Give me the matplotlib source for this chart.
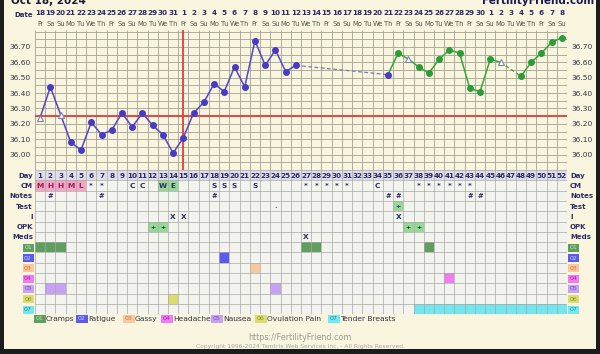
import matplotlib.pyplot as plt
import numpy as np
from matplotlib.patches import Rectangle
from matplotlib.transforms import blended_transform_factory

W, H = 600, 354

# ---- chart data ----
dates = list(range(18, 32)) + list(range(1, 31)) + list(range(1, 9))
wk = ["Fr", "Sa", "Su", "Mo", "Tu", "We", "Th"]
weekdays = [wk[i % 7] for i in range(52)]

temp_day = list(range(1, 27)) + [35] + list(range(36, 47)) + [48, 49, 50, 51, 52]
temp_val = [36.24, 36.44, 36.26, 36.08, 36.03, 36.21, 36.13, 36.16, 36.27, 36.18,
            36.27, 36.19, 36.13, 36.01, 36.11, 36.27, 36.34, 36.46, 36.41, 36.57,
            36.44, 36.74, 36.58, 36.68, 36.54, 36.58,
            36.52,
            36.66, 36.62, 36.57, 36.53, 36.62, 36.68, 36.66, 36.43, 36.41, 36.62, 36.60,
            36.51, 36.60, 36.66, 36.73, 36.76]
discarded = [1, 3, 37, 46]
coverline = 36.25
ovulation_day = 15
cycle2_start = 35

# ---- table data ----
row_labels = ["Day", "CM", "Notes", "Test", "I", "OPK", "Meds",
              "01", "02", "03", "04", "05", "06", "07"]
cm = {1: "M", 2: "H", 3: "H", 4: "M", 5: "L", 6: "*", 7: "*", 10: "C", 11: "C",
      13: "W", 14: "E", 18: "S", 19: "S", 20: "S", 22: "S",
      27: "*", 28: "*", 29: "*", 30: "*", 31: "*", 34: "C",
      38: "*", 39: "*", 40: "*", 41: "*", 42: "*", 43: "*"}
cm_pink = [1, 2, 3, 4, 5]
cm_green = [13, 14]
notes_days = [2, 7, 18, 35, 36, 43, 44]
test = {24: ".", 36: "+"}
test_green = [36]
intercourse_days = [14, 15, 36]
opk_days = [12, 13, 37, 38]
meds_days = [27]
symptom_names = ["Cramps", "Fatigue", "Gassy", "Headache", "Nausea",
                 "Ovulation Pain", "Tender Breasts"]
symptom_days = [[1, 2, 3, 27, 28, 39], [19], [22], [41], [2, 3, 24], [14],
                list(range(38, 53))]
symptom_fill = ["#5f9e5f", "#5a5aee", "#f8c9a0", "#f27af2", "#c8a2f2", "#dcdc72", "#74e6ee"]
symptom_text = ["#b4e4b4", "#c8c8ff", "#d9762c", "#b02cb0", "#7d4cc4", "#8f8f1c", "#2a8f9c"]

BG = "#f9f5de"
NAVY = "#2b2b66"
GRID = "#a3a395"

fig = plt.figure(figsize=(W / 100, H / 100), dpi=100, facecolor=BG)


def fx(px):
    return px / W


def fy(py):
    return 1 - py / H


x0, x1 = 35, 567
# ---------- temperature chart ----------
ax = fig.add_axes([fx(x0), fy(170), fx(x1 - x0), (170 - 30) / H])
ax.set_facecolor(BG)
ax.set_xlim(0.5, 52.5)
ax.set_ylim(35.90, 36.81)
for s in ax.spines.values():
    s.set_visible(False)
ax.vlines(np.arange(0.5, 53), 35.90, 36.81, color=GRID, lw=0.6, zorder=1)
ax.hlines(np.arange(35.90, 36.81, 0.05), 0.5, 52.5, color=GRID, lw=0.6, zorder=1)
ax.set_xticks([])
yt = np.round(np.arange(36.0, 36.71, 0.1), 2)
ax.set_yticks(yt)
ax.set_yticklabels([f"{v:.2f}" for v in yt])
ax.tick_params(axis="y", length=0, pad=3, labelsize=5.4, labelcolor="#333344",
               labelleft=True, labelright=True)

ax.axhline(coverline, color="#e83a3a", lw=1.3, zorder=2)
ax.axvline(ovulation_day, color="#e83a3a", lw=1.3, zorder=2)

td = np.array(temp_day)
tv = np.array(temp_val)
blue = td <= 26
ax.plot(td[blue], tv[blue], color="#5546c8", lw=1.1, zorder=3)
i26, i35 = temp_day.index(26), temp_day.index(35)
ax.plot(td[[i26, i35]], tv[[i26, i35]], color="#7a78b0", lw=0.9, ls=(0, (3, 2)), zorder=3)
i46, i48 = temp_day.index(46), temp_day.index(48)
g1 = (td >= 35) & (td <= 46)
g2 = td >= 48
ax.plot(td[g1], tv[g1], color="#35a83a", lw=1.1, zorder=3)
ax.plot(td[[i46, i48]], tv[[i46, i48]], color="#35a83a", lw=0.9, ls=(0, (3, 2)), zorder=3)
ax.plot(td[g2], tv[g2], color="#35a83a", lw=1.1, zorder=3)

disc = np.isin(td, discarded)
bdot = (~disc) & (td <= cycle2_start)
gdot = (~disc) & (td > cycle2_start)
ax.plot(td[bdot], tv[bdot], "o", ms=4, color="#4a3ac4", zorder=4)
ax.plot(td[gdot], tv[gdot], "o", ms=4, color="#2c9c38", zorder=4)
ax.plot(td[disc], tv[disc], "^", ms=4.2, mfc="white", mec="#8080b0", mew=0.8, zorder=4)

# date header
hdr = blended_transform_factory(ax.transData, fig.transFigure)
for d in range(1, 53):
    ax.text(d, fy(13), str(dates[d - 1]), transform=hdr, ha="center", va="center",
            fontsize=5.2, fontweight="bold", color=NAVY)
    ax.text(d, fy(24), weekdays[d - 1], transform=hdr, ha="center", va="center",
            fontsize=4.9, color="#555555")
fig.text(fx(33), fy(15), "Date", ha="right", va="center", fontsize=5,
         fontweight="bold", color=NAVY)

# ---------- table ----------
nrows = len(row_labels)
tb = fig.add_axes([fx(x0), fy(170 + 10.3 * nrows), fx(x1 - x0), 10.3 * nrows / H])
tb.set_xlim(0.5, 52.5)
tb.set_ylim(nrows, 0)
tb.axis("off")
tb.add_patch(Rectangle((0.5, 0), 52, nrows, fc="#f4f4ef", ec="none", zorder=0))
tb.add_patch(Rectangle((0.5, 0), 52, 1, fc="#dedee8", ec="none", zorder=0))


def cell(day, row, color):
    tb.add_patch(Rectangle((day - 0.5, row), 1, 1, fc=color, ec="none", zorder=1))


def mark(day, row, s, color=NAVY, size=5.3):
    tb.text(day, row + 0.55, s, ha="center", va="center", fontsize=size,
            fontweight="bold", color=color, zorder=3)


for d in range(1, 53):
    mark(d, 0, str(d), size=5.2)
for d in cm_pink:
    cell(d, 1, "#f2a6c6")
for d in cm_green:
    cell(d, 1, "#94da94")
for d, s in cm.items():
    mark(d, 1, s, color="#a0204a" if d in cm_pink else NAVY)
for d in notes_days:
    mark(d, 2, "#", size=4.8)
for d in test_green:
    cell(d, 3, "#94da94")
for d, s in test.items():
    mark(d, 3, s, size=4.5)
for d in intercourse_days:
    mark(d, 4, "X")
for d in opk_days:
    cell(d, 5, "#94da94")
    mark(d, 5, "+", size=4.5)
for d in meds_days:
    mark(d, 6, "X")
for k, days_k in enumerate(symptom_days):
    for d in days_k:
        cell(d, 7 + k, symptom_fill[k])

tb.vlines(np.arange(0.5, 53), 0, nrows, color="#a8a8a8", lw=0.5, zorder=2)
tb.hlines(np.arange(0, nrows + 1), 0.5, 52.5, color="#a8a8a8", lw=0.5, zorder=2)

rowtr_l = blended_transform_factory(fig.transFigure, tb.transData)
for r, lab in enumerate(row_labels):
    if r < 7:
        tb.text(fx(33), r + 0.55, lab, transform=rowtr_l, ha="right", va="center",
                fontsize=5, fontweight="bold", color=NAVY)
        tb.text(fx(570), r + 0.55, lab, transform=rowtr_l, ha="left", va="center",
                fontsize=5, fontweight="bold", color=NAVY)
    else:
        k = r - 7
        for xl, ha in ((fx(32), "right"), (fx(570), "left")):
            tb.text(xl, r + 0.55, lab, transform=rowtr_l, ha=ha, va="center",
                    fontsize=4.5, color=symptom_text[k],
                    bbox=dict(boxstyle="square,pad=0.25", fc=symptom_fill[k], ec="none"))

# ---------- legend ----------
leg_x = [36, 78, 125, 163, 213, 257, 330]
for k, name in enumerate(symptom_names):
    fig.text(fx(leg_x[k]), fy(319), f"0{k + 1}", ha="left", va="center", fontsize=4.5,
             color=symptom_text[k],
             bbox=dict(boxstyle="square,pad=0.3", fc=symptom_fill[k], ec="none"))
    fig.text(fx(leg_x[k] + 10), fy(319), name, ha="left", va="center",
             fontsize=5.4, color="#333344")

fig.text(0.5, fy(338), "https://FertilityFriend.com", ha="center", va="center",
         fontsize=5.8, color="#9a9a9a")
fig.text(0.5, fy(346.5), "Copyright 1996-2024 Tamtris Web Services Inc. - All Rights Reserved.",
         ha="center", va="center", fontsize=4.3, color="#a8a8a8")

# titles (cut off at top, as in the source screenshot)
fig.text(fx(11), fy(4), "Oct 18, 2024", ha="left", va="baseline", fontsize=7.5,
         fontweight="bold", color="#1a1a33")
fig.text(fx(594), fy(4), "FertilityFriend.com", ha="right", va="baseline", fontsize=7.5,
         fontweight="bold", color="#1a1a55")

# dark frame
for rx, ry, rw, rh in ((0, 0, 4, H), (0, 349, W, 5), (596, 0, 4, H)):
    fig.patches.append(Rectangle((fx(rx), fy(ry + rh)), fx(rw), rh / H,
                                 transform=fig.transFigure, fc="#1c1c1c", ec="none"))

fig.savefig("out.png", dpi=100, facecolor=BG)
